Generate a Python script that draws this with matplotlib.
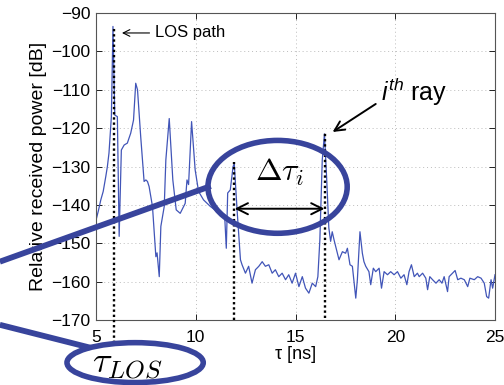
import matplotlib.pyplot as plt
from matplotlib.patches import Ellipse

plt.rcParams['font.family'] = ['Liberation Sans', 'DejaVu Sans']
plt.rcParams['mathtext.fontset'] = 'custom'
plt.rcParams['mathtext.rm'] = 'Liberation Sans'
plt.rcParams['mathtext.it'] = 'Liberation Sans:italic'

# power delay profile: delay [ns], relative power [dB]
tau = [5.00, 5.12, 5.24, 5.36, 5.49, 5.57, 5.65, 5.77, 5.85, 5.94, 6.07, 6.16,
       6.27, 6.41, 6.57, 6.74, 6.88, 6.99, 7.08, 7.24, 7.41, 7.50, 7.58, 7.66,
       7.83, 8.00, 8.06, 8.17, 8.25, 8.42, 8.50, 8.67, 8.85, 9.02, 9.22, 9.47,
       9.56, 9.64, 9.79, 9.97, 10.14, 10.39, 10.73, 11.06, 11.32, 11.45, 11.53,
       11.60, 11.73, 11.87, 11.93, 12.07, 12.24, 12.32, 12.49, 12.65, 12.82,
       12.99, 13.16, 13.33, 13.49, 13.66, 13.83, 13.99, 14.16, 14.33, 14.50,
       14.66, 14.83, 15.00, 15.17, 15.34, 15.50, 15.67, 15.84, 16.01, 16.12,
       16.22, 16.34, 16.45, 16.56, 16.67, 16.76, 16.84, 16.93, 17.01, 17.18,
       17.35, 17.51, 17.60, 17.73, 17.85, 18.02, 18.10, 18.23, 18.35, 18.43,
       18.52, 18.68, 18.77, 18.90, 19.02, 19.19, 19.31, 19.44, 19.61, 19.77,
       19.94, 20.11, 20.28, 20.44, 20.58, 20.69, 20.81, 20.95, 21.11, 21.20,
       21.37, 21.53, 21.62, 21.73, 21.87, 22.04, 22.20, 22.34, 22.45, 22.62,
       22.70, 22.87, 23.00, 23.13, 23.29, 23.46, 23.63, 23.74, 23.96, 24.13,
       24.30, 24.46, 24.58, 24.68, 24.80, 24.88, 25.00]
power = [-144.0, -141.5, -138.7, -136.5, -132.6, -130.0, -126.5, -117.0, -93.5,
         -116.6, -117.0, -148.2, -125.7, -124.4, -123.9, -121.3, -117.9, -108.3,
         -110.0, -122.2, -133.9, -133.5, -133.9, -135.2, -140.4, -153.5, -152.5,
         -158.7, -145.6, -140.4, -128.3, -117.5, -133.5, -141.3, -142.2, -139.6,
         -133.5, -134.7, -118.3, -130.9, -136.5, -138.7, -140.4, -141.7, -142.2,
         -143.0, -151.3, -136.9, -136.1, -130.0, -129.3, -141.3, -154.3, -155.6,
         -157.8, -156.0, -160.4, -156.9, -156.0, -154.8, -156.0, -155.6, -157.8,
         -156.9, -158.7, -157.8, -159.5, -158.2, -160.4, -157.8, -161.3, -158.7,
         -161.7, -163.0, -160.4, -161.3, -158.7, -149.1, -128.3, -121.5, -133.0,
         -146.0, -149.5, -147.0, -149.1, -150.8, -154.3, -152.2, -152.6, -151.3,
         -155.6, -156.0, -164.3, -159.5, -147.0, -152.6, -154.8, -156.0, -157.4,
         -160.8, -156.5, -157.4, -156.5, -161.7, -157.4, -158.2, -157.4, -158.2,
         -157.4, -159.1, -158.2, -160.8, -157.4, -155.6, -158.7, -157.8, -158.7,
         -157.8, -159.1, -162.1, -158.7, -159.5, -160.4, -159.5, -160.4, -158.7,
         -162.6, -158.7, -157.8, -157.1, -159.5, -159.1, -159.5, -161.3, -159.1,
         -159.5, -158.7, -159.1, -160.4, -163.9, -164.3, -159.5, -161.7, -158.2]

# marked rays (dotted lines): LOS, (i-1)th, ith
ray_tau = [5.88, 11.9, 16.5]
ray_top = [-93.7, -128.8, -121.3]
ray_bottom = [-175.9, -170, -169.5]

xticks = [5, 10, 15, 20, 25]
yticks = [-170, -160, -150, -140, -130, -120, -110, -100, -90]

blue = '#38449c'

fig = plt.figure(figsize=(5.04, 3.85), dpi=100)
ax = fig.add_axes([0.1905, 0.1688, 0.7917, 0.7974])

ax.plot(tau, power, color='#4155b8', lw=0.9)
ax.vlines(ray_tau, ray_bottom, ray_top, colors='k', linestyles=(0, (1, 1.2)),
          lw=1.7, clip_on=False, zorder=3)

ax.set_xlim(5, 25)
ax.set_ylim(-170, -90)
ax.set_xticks(xticks)
ax.set_yticks(yticks)
ax.grid(True, ls=(0, (1, 3)), color='#bcbcbc', lw=0.7)
ax.tick_params(direction='in', top=True, right=True, length=4, width=0.6,
               labelsize=12.5)
ax.tick_params(axis='x', pad=7)
ax.tick_params(axis='y', pad=4)
for s in ax.spines.values():
    s.set_color('#555555')
    s.set_linewidth(0.8)
ax.set_xlabel('τ [ns]', fontsize=13, labelpad=1)
ax.set_ylabel('Relative received power [dB]', fontsize=14, labelpad=3)

# LOS label
ax.annotate('LOS path', xy=(6.3, -95.2), xytext=(7.96, -95.2), ha='left',
            va='center', fontsize=12,
            arrowprops=dict(arrowstyle='->', color='k', lw=0.8, shrinkA=2, shrinkB=0))

# ith ray label
ax.text(19.27, -110.6, r'$i^{th}$ ray', ha='left', va='center', fontsize=18)
ax.annotate('', xy=(16.86, -121.0), xytext=(19.02, -113.7),
            arrowprops=dict(arrowstyle='->,head_length=0.7,head_width=0.35',
                            color='k', lw=1.4, shrinkA=0, shrinkB=0))

# delta tau
ax.annotate('', xy=(11.95, -141.0), xytext=(16.45, -141.0),
            arrowprops=dict(arrowstyle='<->,head_length=0.8,head_width=0.4',
                            color='k', lw=1.4, shrinkA=0, shrinkB=0))
ax.text(14.2, -131.4, r'$\Delta\tau_i$', ha='center', va='center',
        fontsize=23, math_fontfamily='cm')
ax.text(6.56, -181.7, r'$\tau_{LOS}$', ha='center', va='center',
        fontsize=26, math_fontfamily='cm')

# blue callouts
ax.add_patch(Ellipse((14.1, -135.3), 6.98, 24.2, fill=False, ec=blue, lw=4,
                     clip_on=False, zorder=4))
ax.add_patch(Ellipse((6.96, -181.1), 6.83, 10.4, fill=False, ec=blue, lw=4,
                     clip_on=False, zorder=4))
ax.plot([0.18, 10.75], [-154.8, -135.1], color=blue, lw=4.2, clip_on=False,
        solid_capstyle='butt', zorder=4)
ax.plot([0.18, 4.7], [-171.25, -177.2], color=blue, lw=4.2, clip_on=False,
        solid_capstyle='butt', zorder=4)

fig.savefig('out.png', dpi=100)
